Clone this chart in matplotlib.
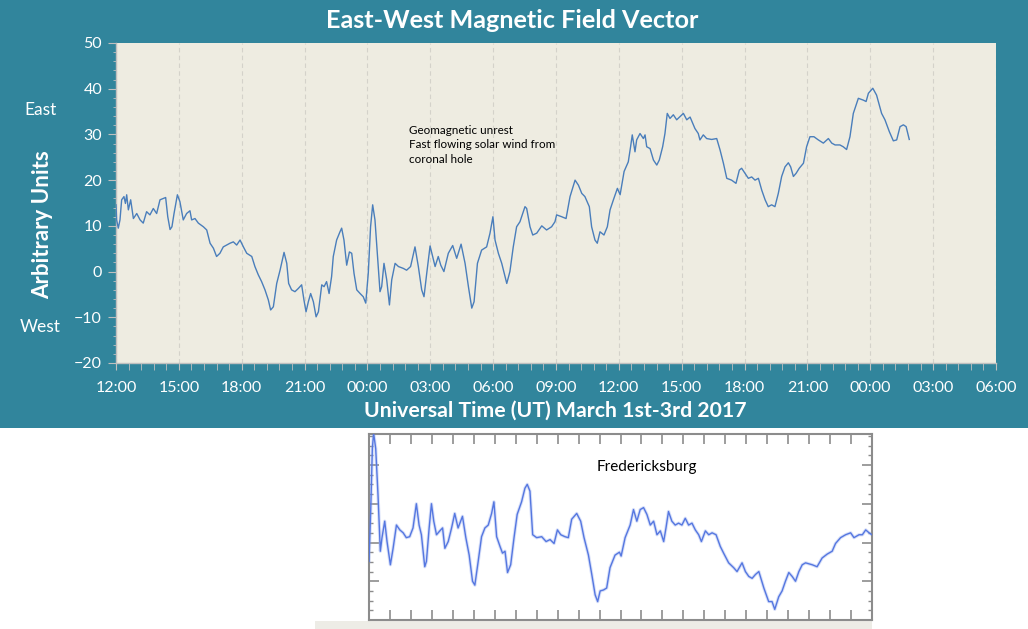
import matplotlib
matplotlib.use("Agg")
import matplotlib.pyplot as plt
from matplotlib.patches import Rectangle
from matplotlib.ticker import MultipleLocator, FixedLocator

plt.rcParams['font.family'] = ['Lato', 'DejaVu Sans']

# ---------------- data ----------------
# hours since 12:00 UT, March 1st
main_hours = [0.0, 0.03, 0.11, 0.19, 0.27, 0.38, 0.45, 0.51, 0.59, 0.70, 0.83, 0.99, 1.15, 1.30, 1.46,
              1.62, 1.78, 1.94, 2.10, 2.26, 2.37, 2.47, 2.58, 2.67, 2.77, 2.93, 3.05, 3.21, 3.37, 3.53,
              3.61, 3.77, 3.93, 4.17, 4.33, 4.49, 4.65, 4.80, 4.96, 5.12, 5.28, 5.44, 5.60, 5.76, 5.92,
              6.08, 6.24, 6.48, 6.63, 6.79, 6.95, 7.11, 7.27, 7.38, 7.51, 7.67, 7.83, 8.02, 8.15, 8.24,
              8.38, 8.54, 8.70, 8.86, 8.97, 9.07, 9.18, 9.29, 9.42, 9.55, 9.66, 9.82, 9.93, 10.05, 10.17,
              10.29, 10.37, 10.53, 10.69, 10.77, 10.88, 11.01, 11.14, 11.25, 11.36, 11.49, 11.65, 11.80,
              11.92, 12.04, 12.15, 12.25, 12.36, 12.47, 12.60, 12.68, 12.79, 12.92, 13.05, 13.16, 13.32,
              13.48, 13.71, 13.87, 14.06, 14.27, 14.43, 14.59, 14.70, 14.83, 14.99, 15.11, 15.23, 15.38,
              15.50, 15.65, 15.86, 16.07, 16.26, 16.47, 16.66, 16.82, 16.98, 17.09, 17.25, 17.45, 17.69,
              17.85, 17.99, 18.09, 18.25, 18.41, 18.65, 18.80, 18.96, 19.12, 19.28,
              19.52, 19.60, 19.76, 19.89, 20.08, 20.32, 20.55, 20.79, 20.95, 21.03, 21.27, 21.48, 21.67,
              21.91, 22.07, 22.23, 22.38, 22.59, 22.70, 22.86, 22.97, 23.10, 23.29, 23.45, 23.58, 23.74,
              23.93, 24.06, 24.25, 24.45, 24.56, 24.64, 24.77, 24.85, 25.01, 25.17, 25.25, 25.33, 25.49,
              25.65, 25.81, 25.93, 26.09, 26.20, 26.31, 26.44, 26.60, 26.76, 26.92, 27.08, 27.24, 27.40,
              27.63, 27.79, 27.87, 28.03, 28.19, 28.43, 28.67, 28.83, 28.99, 29.15, 29.38, 29.59, 29.75,
              29.86, 30.02, 30.18, 30.34, 30.50, 30.66, 30.82, 30.98, 31.13, 31.29, 31.45, 31.61, 31.77,
              31.93, 32.09, 32.20, 32.33, 32.46, 32.61, 32.81, 32.96, 33.12, 33.31, 33.52, 33.76, 34.00,
              34.16, 34.32, 34.55, 34.71, 34.87, 35.03, 35.19, 35.43, 35.67, 35.80, 35.91, 36.12, 36.30,
              36.54, 36.70, 36.91, 37.10, 37.26, 37.42, 37.58, 37.71, 37.86]
main_values = [14.6, 11.3, 9.5, 11.3, 15.7, 16.4, 14.9, 16.8, 13.5, 15.7, 11.6, 12.7, 11.3, 10.6, 13.1,
               12.4, 13.8, 12.7, 15.7, 16.0, 16.2, 12.0, 9.2, 9.8, 12.7, 16.8, 15.3, 11.3, 12.7, 13.3,
               11.3, 11.6, 10.6, 9.8, 9.1, 6.2, 5.1, 3.3, 4.0, 5.4, 5.8, 6.2, 6.5, 5.8, 6.9,
               5.4, 4.0, 3.3, 1.1, -0.7, -2.2, -4.0, -6.2, -8.4, -7.7, -2.6, 0.3, 4.2, 1.8, -2.6,
               -4.0, -4.4, -3.7, -2.9, -6.2, -8.8, -6.6, -4.8, -6.6, -9.9, -8.8, -2.9, -3.3, -2.2, -4.8,
               -1.1, 3.3, 6.9, 8.7, 9.5, 6.9, 1.4, 4.3, 4.0, -0.4, -4.0, -4.8, -5.5,
               -6.9, -0.4, 9.8, 14.6, 11.3, 4.0, -4.4, -3.3, 1.8, -1.8, -7.3, -1.8, 1.8,
               1.1, 0.7, 0.3, 1.1, 5.4, 1.1, -4.0, -5.5, -0.4, 5.6, 3.3, 1.1, 3.3,
               1.4, 0.0, 4.0, 5.7, 2.9, 6.0, 1.8, -3.3, -8.0, -6.6, 1.8, 4.7, 5.4,
               8.4, 12.0, 6.9, 4.0, 1.8, -2.6, 0.0, 5.4, 9.8, 10.9,
               14.2, 13.8, 9.8, 8.0, 8.4, 10.0, 9.1, 9.8, 10.9, 12.4, 12.0, 11.6, 16.4,
               20.0, 18.9, 17.1, 16.4, 14.2, 9.8, 6.9, 6.2, 8.7, 8.0, 9.8, 13.5, 15.7,
               18.2, 16.8, 21.9, 24.0, 27.3, 29.9, 26.2, 28.8, 30.2, 29.1, 29.9, 27.3, 26.9,
               24.4, 23.3, 24.4, 27.3, 30.2, 34.6, 33.5, 34.3, 33.2, 33.9, 34.6, 33.2, 33.8,
               31.3, 30.2, 28.8, 29.9, 29.1, 28.9, 29.1, 26.6, 23.7, 20.4, 20.0, 19.3, 22.2,
               22.6, 21.5, 20.4, 20.7, 20.0, 20.4, 17.8, 15.7, 14.2, 14.6, 14.2, 17.1, 20.8,
               22.9, 23.8, 22.9, 20.8, 21.5, 22.6, 23.7, 27.3, 29.5, 29.5, 28.8, 28.1, 29.1,
               28.1, 27.7, 27.7, 27.3, 26.7, 29.5, 34.6, 37.9, 37.5, 37.2, 39.0, 40.1, 38.6,
               34.6, 33.2, 30.6, 28.6, 28.8, 31.7, 32.1, 31.7, 28.9]

x_tick_hours = [0, 3, 6, 9, 12, 15, 18, 21, 24, 27, 30, 33, 36, 39, 42]
x_tick_labels = ["12:00", "15:00", "18:00", "21:00", "00:00", "03:00", "06:00", "09:00",
                 "12:00", "15:00", "18:00", "21:00", "00:00", "03:00", "06:00"]
y_ticks = [-20, -10, 0, 10, 20, 30, 40, 50]

# Fredericksburg magnetometer trace (inset, arbitrary units)
fred_x = [0.0, 0.08, 0.16, 0.22, 0.32, 0.43, 0.54, 0.62, 0.75, 0.86, 1.02, 1.15, 1.31, 1.47, 1.63,
          1.78, 1.94, 2.10, 2.26, 2.39, 2.50, 2.66, 2.74, 2.87, 2.98, 3.09, 3.22, 3.38, 3.51, 3.62,
          3.78, 3.94, 4.09, 4.25, 4.46, 4.62, 4.78, 4.94, 5.05, 5.21, 5.37, 5.53, 5.69, 5.85, 5.96,
          6.09, 6.25, 6.37, 6.49, 6.61, 6.76, 6.92, 7.07, 7.28, 7.44, 7.55, 7.68, 7.81, 8.00, 8.24,
          8.45, 8.64, 8.83, 8.99, 9.15, 9.35, 9.51, 9.67, 9.91, 10.10, 10.26, 10.47, 10.63, 10.79,
          10.91, 11.03, 11.19, 11.34, 11.50, 11.74, 11.95,
          12.03, 12.22, 12.46, 12.62, 12.78, 12.94, 13.10, 13.26, 13.42, 13.58, 13.74, 13.90, 14.06,
          14.17, 14.29, 14.45, 14.61, 14.77, 14.93, 15.09, 15.25, 15.41, 15.57, 15.73, 15.86, 16.05,
          16.21, 16.37, 16.56, 16.76, 16.92, 17.16, 17.40, 17.56, 17.80, 17.96, 18.12, 18.28, 18.44,
          18.60, 18.84, 19.07, 19.23, 19.36, 19.55, 19.71, 19.87, 20.03, 20.19, 20.35, 20.51, 20.67,
          20.83, 21.15, 21.38, 21.62, 21.86, 22.10, 22.26, 22.50, 22.74, 22.98, 23.14, 23.38, 23.54,
          23.70, 23.86, 24.0]
fred_y = [6.05, 11.2, 17.7, 19.3, 17.7, 12.9, 7.1, 8.5, 10.2, 8.1, 5.7, 7.4, 9.8, 9.3, 9.0,
          8.5, 8.6, 9.5, 12.0, 9.8, 8.8, 5.5, 6.05, 9.5, 12.0, 10.2, 8.8, 9.2, 9.5, 7.4,
          8.1, 9.5, 11.0, 9.5, 10.7, 8.5, 6.7, 4.0, 3.6, 6.05, 8.6, 9.5, 9.8, 11.0, 12.2,
          8.6, 7.6, 6.9, 7.1, 4.9, 5.7, 8.5, 10.9, 12.2, 13.6, 14.0, 13.3, 8.8, 8.5, 8.6,
          8.1, 8.3, 7.9, 9.3, 8.8, 8.6, 8.5, 10.4, 11.0, 10.2, 8.5, 6.7, 4.7, 2.6,
          1.9, 3.0, 3.1, 3.3, 5.4, 6.7, 7.0,
          6.6, 8.5, 9.8, 11.4, 10.2, 11.4, 11.6, 10.9, 9.8, 10.2, 8.8, 9.2, 8.1,
          9.5, 11.2, 10.2, 9.8, 10.0, 9.8, 10.5, 9.8, 10.0, 9.3, 8.8, 8.1, 9.2,
          8.8, 9.0, 8.8, 7.6, 6.9, 5.9, 5.4, 5.0, 5.9, 5.0, 4.5, 4.3, 4.7,
          5.0, 3.3, 1.9, 1.9, 1.1, 2.4, 3.0, 4.0, 4.9, 4.5, 4.0, 5.0, 5.7,
          5.9, 5.7, 5.5, 6.4, 6.8, 7.1, 7.9, 8.5, 8.8, 9.0, 8.5, 8.8, 8.8,
          9.3, 9.0, 8.8]

# ---------------- styles ----------------
TEAL = "#31859C"
BEIGE = "#EEECE1"
LINE = "#4A7EBB"
W, H = 1028, 629

fig = plt.figure(figsize=(W / 100, H / 100), dpi=100, facecolor="white")

# teal panel (drawn behind the axes)
fig.patches.append(Rectangle((0, 1 - 428 / H), 1, 428 / H, transform=fig.transFigure,
                             facecolor=TEAL, edgecolor="none", zorder=-10))
# light strip under inset
fig.patches.append(Rectangle((315 / W, 0), (872 - 315) / W, 8 / H, transform=fig.transFigure,
                             facecolor="#EDECE6", edgecolor="none", zorder=-10))

ax = fig.add_axes([116 / W, 1 - 363 / H, (996 - 116) / W, (363 - 43) / H])
ax.set_facecolor(BEIGE)
ax.plot(main_hours, main_values, color=LINE, lw=1.0, zorder=3)
ax.set_xlim(0, 42)
ax.set_ylim(-20, 50)
ax.set_xticks(x_tick_hours)
ax.set_xticklabels(x_tick_labels)
ax.xaxis.set_minor_locator(MultipleLocator(0.6))
ax.set_yticks(y_ticks)
ax.yaxis.set_minor_locator(MultipleLocator(2))
for s in ["top", "right"]:
    ax.spines[s].set_visible(False)
for s in ["left", "bottom"]:
    ax.spines[s].set_color("#BFBFBF")
    ax.spines[s].set_linewidth(1.0)
ax.tick_params(axis="x", which="both", direction="out", length=5, color="#BFBFBF",
               labelcolor="white", labelsize=11.5, pad=8)
ax.tick_params(axis="y", which="major", direction="out", length=6, color="#BFBFBF",
               labelcolor="white", labelsize=11.5, pad=4)
ax.tick_params(axis="y", which="minor", direction="out", length=2.5, color="#BFBFBF")
ax.grid(axis="x", which="major", color="#D4D2CA", linestyle=(0, (4, 3)), lw=0.8, zorder=1)
ax.text(13.98, 32.1, "Geomagnetic unrest\nFast flowing solar wind from\ncoronal hole",
        fontsize=8.4, color="black", va="top", ha="left", linespacing=1.4)

fig.text(512 / W, 1 - 20 / H, "East-West Magnetic Field Vector", color="white",
         fontsize=18.2, fontweight="bold", ha="center", va="center")
fig.text(555 / W, 1 - 411 / H, "Universal Time (UT) March 1st-3rd 2017", color="white",
         fontsize=15.3, fontweight="bold", ha="center", va="center")
fig.text(43 / W, 1 - 225 / H, "Arbitrary Units", color="white", fontsize=16,
         fontweight="bold", rotation=90, ha="center", va="center")
fig.text(40 / W, 1 - 110 / H, "East", color="white", fontsize=12.5, ha="center", va="center")
fig.text(40 / W, 1 - 327 / H, "West", color="white", fontsize=12.5, ha="center", va="center")

# ---------------- inset ----------------
ax2 = fig.add_axes([369 / W, 1 - 620 / H, (872 - 369) / W, (620 - 434) / H])
ax2.set_facecolor("white")
ax2.plot(fred_x, fred_y, color="#8FA6EE", lw=2.4, alpha=0.35, zorder=2)
ax2.plot(fred_x, fred_y, color="#5577E0", lw=1.0, zorder=3)
ax2.set_xlim(0, 24)
ax2.set_ylim(0, 19.2)
ax2.xaxis.set_major_locator(MultipleLocator(1))
ax2.yaxis.set_major_locator(FixedLocator([0, 4, 8, 12, 16]))
ax2.yaxis.set_minor_locator(MultipleLocator(1))
ax2.tick_params(axis="both", which="major", direction="in", length=7, width=1.2,
                color="#8C8C8C", top=True, right=True, labelleft=False, labelbottom=False)
ax2.tick_params(axis="y", which="minor", direction="in", length=3, width=1.0,
                color="#8C8C8C", left=True, right=True)
for s in ax2.spines.values():
    s.set_color("#8C8C8C")
    s.set_linewidth(1.5)
ax2.text(0.553, 0.82, "Fredericksburg", transform=ax2.transAxes, fontsize=11,
         color="black", ha="center", va="center")

fig.savefig("out.png", dpi=100, facecolor="white")
